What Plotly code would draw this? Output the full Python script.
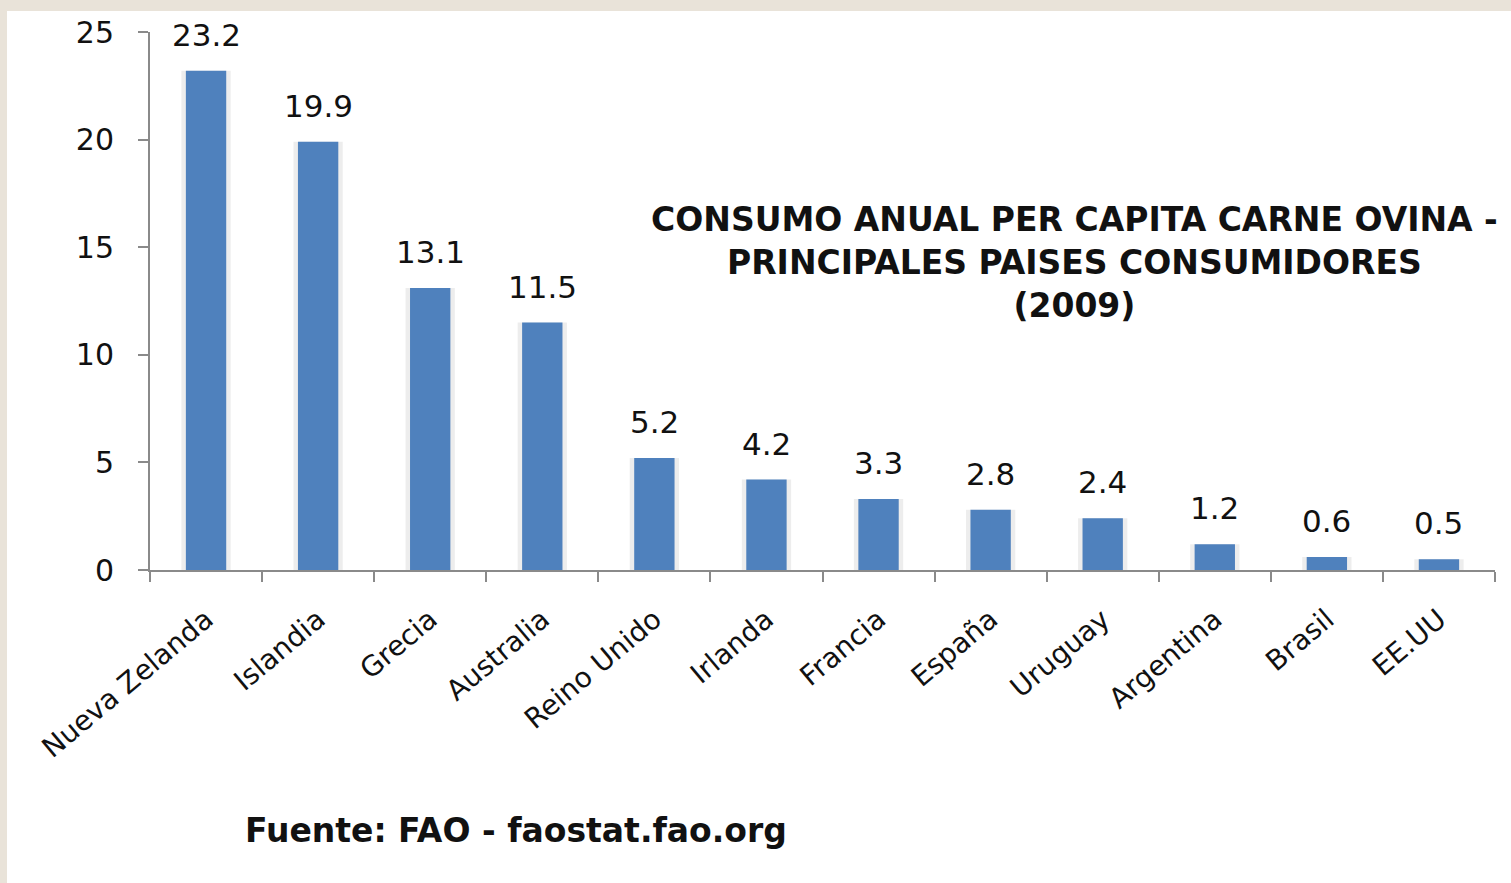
import plotly.graph_objects as go

paises = ["Nueva Zelanda", "Islandia", "Grecia", "Australia", "Reino Unido", "Irlanda",
          "Francia", "España", "Uruguay", "Argentina", "Brasil", "EE.UU"]
consumo = [23.2, 19.9, 13.1, 11.5, 5.2, 4.2, 3.3, 2.8, 2.4, 1.2, 0.6, 0.5]
y_ticks = [0, 5, 10, 15, 20, 25]

titulo = "CONSUMO ANUAL PER CAPITA CARNE OVINA -<br>PRINCIPALES PAISES CONSUMIDORES<br>(2009)"
fuente = "Fuente: FAO - faostat.fao.org"

PW, PH = 1345, 538  # plot area size in px

fig = go.Figure()
# soft shadow behind bars
fig.add_trace(go.Bar(x=paises, y=consumo, width=0.44, hoverinfo="skip",
                     marker=dict(color="rgba(0,0,0,0.07)", line=dict(width=0))))
fig.add_trace(go.Bar(x=paises, y=consumo, width=0.36,
                     marker=dict(color="#4F81BD", line=dict(width=0))))

for p, v in zip(paises, consumo):
    fig.add_annotation(x=p, y=v, text=f"{v:.1f}", showarrow=False, yanchor="bottom",
                       yshift=16, font=dict(family="DejaVu Sans", size=31, color="#111"))

fig.add_annotation(xref="paper", yref="paper", x=(1074 - 150) / PW, y=(570 - 262) / PH,
                   text=titulo, showarrow=False, xanchor="center", yanchor="middle",
                   align="center",
                   font=dict(family="DejaVu Sans", size=33, color="#111", weight="bold"))
fig.add_annotation(xref="paper", yref="paper", x=(243 - 150) / PW, y=(570 - 830) / PH,
                   text=fuente, showarrow=False, xanchor="left", yanchor="middle",
                   font=dict(family="DejaVu Sans", size=33, color="#111", weight="bold"))

fig.add_shape(type="rect", xref="paper", yref="paper", layer="below",
              x0=(7 - 150) / PW, x1=(1530 - 150) / PW,
              y0=(570 - 900) / PH, y1=(570 - 11) / PH,
              fillcolor="white", line=dict(width=0))

fig.update_layout(
    width=1511, height=883,
    margin=dict(l=150, r=16, t=32, b=313),
    paper_bgcolor="#E9E3D9", plot_bgcolor="white",
    showlegend=False, barmode="overlay",
    xaxis=dict(type="category", tickangle=-40, showline=True, linecolor="#8a8a8a", linewidth=2,
               ticks="outside", tickson="boundaries", ticklen=10, tickcolor="#8a8a8a", tickwidth=2,
               tickfont=dict(family="DejaVu Sans", size=28, color="#111"),
               showgrid=False, range=[-0.5, 11.5], ticklabelstandoff=20),
    yaxis=dict(range=[0, 25], tickvals=y_ticks, showline=True, linecolor="#8a8a8a", linewidth=2,
               ticks="outside", ticklen=10, tickcolor="#8a8a8a", tickwidth=2,
               tickfont=dict(family="DejaVu Sans", size=30, color="#111"),
               showgrid=False, zeroline=False, ticklabelstandoff=18),
)

fig.write_html("out.html", config={"displayModeBar": False},
               post_script="document.body.style.margin='0px';document.body.style.overflow='hidden';")
